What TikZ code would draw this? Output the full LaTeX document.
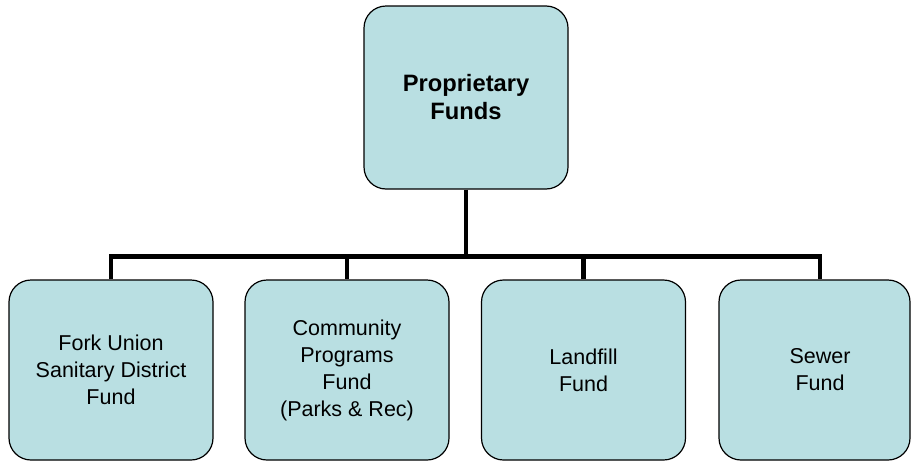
\documentclass[tikz,border=0pt]{standalone}
\usepackage{fontspec}
\setmainfont{Liberation Sans}
\usetikzlibrary{calc}
\definecolor{boxfill}{RGB}{185,223,226}
\begin{document}
\begin{tikzpicture}[x=1pt,y=-1pt,
  fund/.style={draw=black,line width=1.2pt,fill=boxfill,rounded corners=22pt,
    minimum width=204pt,minimum height=180pt,inner sep=0pt,align=center,
    font=\fontsize{21.5}{27}\selectfont},
  conn/.style={line width=4.2pt,draw=black}]
\clip (0,0) rectangle (911,461);
\useasboundingbox (0,0) rectangle (911,461);
\fill[white] (0,0) rectangle (911,461);
\node[fund,minimum height=183pt,font=\fontsize{23.7}{28}\selectfont\bfseries] (top) at (466,97.5) {Proprietary\\Funds};
\node[fund] (b1) at (111,370) {Fork Union\\Sanitary District\\Fund};
\node[fund] (b2) at (347,370) {Community\\Programs\\Fund\\(Parks \& Rec)};
\node[fund] (b3) at (583.5,370) {Landfill\\Fund};
\node[fund,minimum width=191pt] (b4) at (814.5,370) {\hspace*{11pt}Sewer\\\hspace*{11pt}Fund};
\coordinate (bar) at (0,256.5);
\coordinate (b4c) at ($(b4.north)+(5.5,0)$);
\draw[conn] (top.south) -- (top.south |- bar);
\draw[conn] (b1.north) -- (b1.north |- bar) -- (b4c |- bar) -- (b4c);
\draw[conn] (b2.north |- bar) -- (b2.north);
\draw[conn] (b3.north |- bar) -- (b3.north);
\end{tikzpicture}
\end{document}
